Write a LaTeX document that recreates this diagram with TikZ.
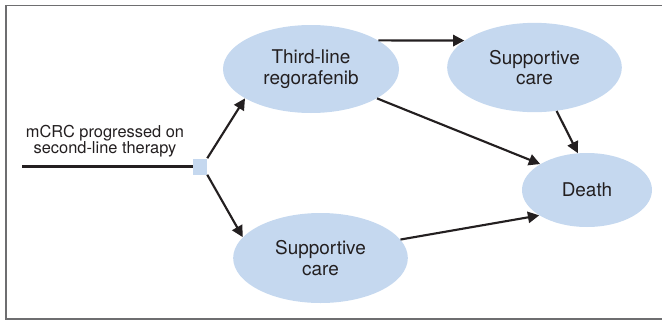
\documentclass[tikz,border=0pt]{standalone}
\usepackage{fontspec}
\setmainfont{TeX Gyre Heros}
\usetikzlibrary{shapes.geometric,arrows.meta}

\definecolor{stateblue}{RGB}{197,216,239}
\definecolor{inkdark}{RGB}{35,31,32}
\definecolor{framegray}{RGB}{110,110,112}

\tikzset{
  state/.style={ellipse, fill=stateblue, inner sep=0pt, align=center,
    text=inkdark, font=\fontsize{14.2}{15.6}\selectfont},
  branch/.style={rectangle, fill=stateblue, inner sep=0pt, minimum width=10.5pt, minimum height=12pt},
  link/.style={draw=inkdark, line width=1.6pt, -{Triangle[length=8.5pt,width=8.5pt]}}
}

\begin{document}
\begin{tikzpicture}[x=0.75pt,y=0.75pt,yscale=-1,xscale=1]
        \useasboundingbox (0,0) rectangle (662,322);

        %Shape: Rectangle [frame]
        \draw [framegray, line width=1.3pt] (6,5.5) rectangle (664,319);

        %Shape: Ellipse [third]
        \node [state, minimum width=132pt, minimum height=66pt] (third) at (311,69) {Third-line\\regorafenib};
        %Shape: Ellipse [care top]
        \node [state, minimum width=131pt, minimum height=67pt] (caretop) at (534.5,67.5) {Supportive\\care};
        %Shape: Ellipse [death]
        \node [state, minimum width=97.5pt, minimum height=55.5pt] (death) at (587,190) {Death};
        %Shape: Ellipse [care bottom]
        \node [state, minimum width=131pt, minimum height=67.5pt] (carebot) at (320.5,258) {Supportive\\care};

        %Shape: Square [decision]
        \node [branch] (sq) at (200,166.5) {};
        \coordinate (start) at (22,166.5);

        % Text Node
        \node [text=inkdark, align=center, font=\fontsize{12.3}{12.2}\selectfont] (entry) at (105,141) {mCRC progressed on\\second-line therapy};

        %Straight Lines
        \draw [inkdark, line width=1.7pt] (start) -- (sq.west);
        %Straight Lines
        \draw [link] (sq.north east) -- (third.204);
        \draw [link] (sq.south east) -- (carebot.165);
        \draw [link] (third.23) -- (caretop.159);
        \draw [link] (third.336) -- (death.151);
        \draw [link] (caretop.297) -- (death.104);
        \draw [link] (carebot.13) -- (death.208);
\end{tikzpicture}
\end{document}
